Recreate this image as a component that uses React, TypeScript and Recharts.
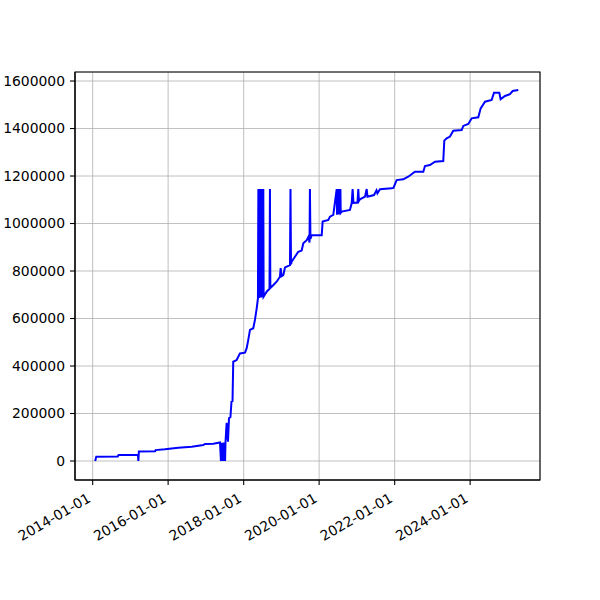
import { LineChart, Line, XAxis, YAxis, CartesianGrid, ReferenceArea } from 'recharts'

const dates = [
  '2014-01-25', '2014-02-05', '2014-09-01', '2014-09-08', '2015-03-15', '2015-03-19', '2015-03-24',
  '2015-08-28', '2015-09-02', '2015-12-01', '2016-04-08', '2016-08-16', '2016-12-06', '2016-12-23',
  '2017-03-13', '2017-05-17',
  '2017-05-26', '2017-05-30', '2017-06-03', '2017-06-07', '2017-06-11', '2017-06-15', '2017-06-19',
  '2017-06-23', '2017-06-27', '2017-07-01', '2017-07-05', '2017-07-09',
  '2017-07-20', '2017-08-02', '2017-08-12', '2017-08-26', '2017-09-05', '2017-09-15', '2017-09-22',
  '2017-10-25', '2017-11-26', '2018-01-14', '2018-01-30', '2018-02-14', '2018-03-03', '2018-04-04',
  '2018-04-20', '2018-05-07', '2018-05-19',
  '2018-05-23', '2018-05-26', '2018-05-29', '2018-06-01', '2018-06-04', '2018-06-07', '2018-06-10',
  '2018-06-13', '2018-06-16', '2018-06-19', '2018-06-22', '2018-06-25', '2018-06-28', '2018-07-01',
  '2018-07-04', '2018-07-07', '2018-07-10', '2018-07-13',
  '2018-08-11', '2018-09-08', '2018-09-12', '2018-09-16', '2018-09-29', '2018-11-16', '2018-12-18',
  '2018-12-25', '2019-01-02', '2019-01-19', '2019-02-05', '2019-03-25', '2019-03-30', '2019-04-04',
  '2019-04-10', '2019-05-12', '2019-06-13', '2019-07-16', '2019-08-01', '2019-09-03', '2019-09-20',
  '2019-09-30', '2019-10-04', '2019-10-09', '2019-10-21', '2020-01-26', '2020-02-04', '2020-03-30',
  '2020-04-15', '2020-05-17',
  '2020-06-19', '2020-06-22', '2020-06-25', '2020-06-28', '2020-07-01', '2020-07-04', '2020-07-07',
  '2020-07-10', '2020-07-13', '2020-07-16', '2020-07-19', '2020-07-22', '2020-07-25', '2020-07-28',
  '2020-08-06', '2020-10-25', '2020-11-11', '2020-11-20', '2020-11-28', '2021-01-06', '2021-01-14',
  '2021-01-20', '2021-01-30', '2021-03-20', '2021-04-05', '2021-04-13', '2021-06-15', '2021-07-09',
  '2021-07-18', '2021-08-12', '2021-12-03', '2021-12-20', '2022-01-20', '2022-03-25', '2022-05-12',
  '2022-07-16', '2022-10-05', '2022-10-21', '2022-12-08', '2023-01-26', '2023-04-16', '2023-04-26',
  '2023-05-19', '2023-06-20', '2023-07-22', '2023-10-11', '2023-10-27', '2023-12-14', '2024-01-16',
  '2024-03-20', '2024-04-12', '2024-05-24', '2024-07-27', '2024-08-19', '2024-10-09', '2024-10-22',
  '2024-12-03', '2025-01-20', '2025-02-15', '2025-04-11',
]

const values = [
  0, 18000, 19000, 25000, 26000, 0, 40000,
  41000, 46000, 49000, 56000, 60000, 67000, 72000,
  73000, 78000,
  0, 76000, 0, 77000, 0, 77000, 0,
  78000, 0, 78000, 0, 79000,
  161000, 81000, 180000, 185000, 250000, 252000, 418000,
  425000, 453000, 456000, 475000, 509000, 552000, 559000,
  594000, 643000, 685000,
  1145000, 686000, 1145000, 687000, 1145000, 688000, 1145000,
  688000, 1145000, 689000, 1145000, 690000, 1145000, 690000,
  1145000, 691000, 1145000, 692000,
  713000, 725000, 1145000, 728000, 734000, 755000, 776000,
  812000, 778000, 783000, 815000, 825000, 1145000, 828000,
  839000, 860000, 881000, 886000, 917000, 930000, 945000,
  920000, 1145000, 935000, 951000, 951000, 1008000, 1015000,
  1029000, 1036000,
  1145000, 1037000, 1145000, 1038000, 1145000, 1038000, 1145000,
  1039000, 1145000, 1040000, 1145000, 1042000, 1145000, 1045000,
  1050000, 1057000, 1085000, 1145000, 1087000, 1088000, 1145000,
  1095000, 1102000, 1113000, 1145000, 1113000, 1120000, 1140000,
  1127000, 1144000, 1148000, 1150000, 1183000, 1186000, 1197000,
  1218000, 1218000, 1242000, 1246000, 1260000, 1263000, 1349000,
  1359000, 1366000, 1391000, 1394000, 1411000, 1419000, 1443000,
  1447000, 1485000, 1513000, 1520000, 1551000, 1551000, 1523000,
  1537000, 1545000, 1558000, 1562000,
]

const xTickDates = ['2014-01-01', '2016-01-01', '2018-01-01', '2020-01-01', '2022-01-01', '2024-01-01']
const yTicks = [0, 200000, 400000, 600000, 800000, 1000000, 1200000, 1400000, 1600000]

const ts = (d: string) => Date.parse(d + 'T00:00:00Z')

const data = dates.map((d, i) => ({ t: ts(d), v: values[i] }))
const xTicks = xTickDates.map(ts)
const xDomain = [ts('2013-07-14'), ts('2025-11-07')]
const yDomain = [-80000, 1638000]

const FONT = 'DejaVu Sans'

function DateTick(props: any) {
  const { x, y, payload } = props
  const label = new Date(payload.value).toISOString().slice(0, 10)
  const ax = x - 1
  const ay = y + 14
  return (
    <text x={ax} y={ay} transform={`rotate(-30, ${ax}, ${ay})`} textAnchor="end"
      fontSize={13.9} fontFamily={FONT} fill="#000">
      {label}
    </text>
  )
}

export default function App() {
  return (
    <div style={{ position: 'absolute', left: 0, top: 0, width: 600, height: 600, background: '#fff' }}>
      <LineChart width={600} height={600} data={data} margin={{ top: 72, right: 60, bottom: 0, left: 0 }}>
        <CartesianGrid stroke="#b0b0b0" strokeWidth={0.8} />
        <XAxis dataKey="t" type="number" domain={xDomain} ticks={xTicks} allowDataOverflow interval={0}
          height={120} tickSize={5} tickMargin={2} tick={<DateTick />}
          axisLine={{ stroke: '#000', strokeWidth: 1.1 }} tickLine={{ stroke: '#000', strokeWidth: 1.1 }} />
        <YAxis type="number" domain={yDomain} ticks={yTicks} allowDataOverflow interval={0}
          width={75} tickSize={5} tickMargin={5}
          tick={{ fontSize: 13.9, fontFamily: FONT, fill: '#000' }}
          axisLine={{ stroke: '#000', strokeWidth: 1.1 }} tickLine={{ stroke: '#000', strokeWidth: 1.1 }} />
        <ReferenceArea x1={xDomain[0]} x2={xDomain[1]} y1={yDomain[0]} y2={yDomain[1]}
          fill="none" stroke="#000" strokeWidth={1.1} ifOverflow="visible" />
        <Line type="linear" dataKey="v" stroke="#0000ff" strokeWidth={2} dot={false}
          isAnimationActive={false} />
      </LineChart>
    </div>
  )
}
